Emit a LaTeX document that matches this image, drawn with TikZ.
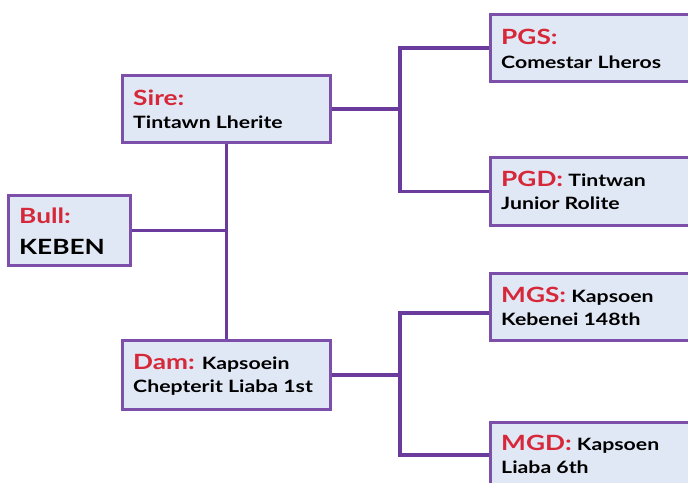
\documentclass[tikz,border=0pt]{standalone}
\usepackage{fontspec}
\setmainfont{Lato}[FakeStretch=1.25]
\usetikzlibrary{calc}
\definecolor{boxfill}{HTML}{E1E8F5}
\definecolor{boxline}{HTML}{7B4FAA}
\definecolor{connline}{HTML}{6A3A9C}
\definecolor{tagred}{HTML}{D62839}
\begin{document}
\begin{tikzpicture}[x=1pt,y=-1pt,
  box/.style={draw=boxline, fill=boxfill, line width=2pt, rectangle, anchor=north west, inner sep=0pt},
  conn/.style={draw=connline, line width=3.5pt},
  txt/.style={anchor=base west, inner sep=0pt, font=\bfseries\fontsize{17}{20}\selectfont},
  tagfont/.style={font=\bfseries\fontsize{21}{24}\selectfont}]
\useasboundingbox (0,0) rectangle (688,482);
\begin{scope}
\clip (0,0) rectangle (688,482);
% boxes
\node[box, minimum width=121pt, minimum height=69pt] (bull) at (8,195) {};
\node[box, minimum width=207pt, minimum height=66pt] (sire) at (122,75) {};
\node[box, minimum width=207pt, minimum height=68pt] (dam) at (122,340) {};
\node[box, minimum width=220pt, minimum height=66pt] (pgs) at (490,14) {};
\node[box, minimum width=220pt, minimum height=67pt] (pgd) at (490,157) {};
\node[box, minimum width=220pt, minimum height=66pt] (mgs) at (490,273) {};
\node[box, minimum width=220pt, minimum height=80pt] (mgd) at (490,422) {};
% junction points of the brackets, level with the parent boxes
\coordinate (sj) at (sire.east -| 400,0);
\coordinate (dj) at (dam.east -| 400,0);
\coordinate (mgsin) at (mgs.west |- 0,313);
\coordinate (mgdin) at (mgd.west |- 0,455);
% connectors
\draw[conn] (bull.east) -- (bull.east -| sire.south);
\draw[conn] (sire.south) -- (dam.north);
\draw[conn] (sire.east) -- (sj);
\draw[conn] (dam.east) -- (dj);
\draw[conn] (pgs.west) -| (sj) |- (pgd.west);
\draw[conn] (mgsin) -| (dj) |- (mgdin);
% box borders drawn again over the connector ends
\foreach \b in {bull,sire,dam,pgs,pgd,mgs,mgd}
  \draw[boxline, line width=2pt] (\b.north west) rectangle (\b.south east);
% texts
\node[txt, text=tagred, tagfont] (bullt) at (19,223) {Bull:};
\node[txt, tagfont] (bulln) at (19,254) {KEBEN};
\node[txt, text=tagred, tagfont] (siret) at (133,105) {Sire:};
\node[txt] (siren) at (133,128) {Tintawn Lherite};
\node[txt] (damt) at (133,369) {\textcolor{tagred}{\fontsize{21}{24}\selectfont Dam:} Kapsoein};
\node[txt] (damn) at (133,392) {Chepterit Liaba 1st};
\node[txt, text=tagred, tagfont] (pgst) at (501,44) {PGS:};
\node[txt] (pgsn) at (501,68) {Comestar Lheros};
\node[txt] (pgdt) at (501,186) {\textcolor{tagred}{\fontsize{21}{24}\selectfont PGD:} Tintwan};
\node[txt] (pgdn) at (501,209) {Junior Rolite};
\node[txt] (mgst) at (501,302) {\textcolor{tagred}{\fontsize{21}{24}\selectfont MGS:} Kapsoen};
\node[txt] (mgsn) at (501,325) {Kebenei 148th};
\node[txt] (mgdt) at (501,450) {\textcolor{tagred}{\fontsize{21}{24}\selectfont MGD:} Kapsoen};
\node[txt] (mgdn) at (501,473) {Liaba 6th};
\end{scope}
\end{tikzpicture}
\end{document}
